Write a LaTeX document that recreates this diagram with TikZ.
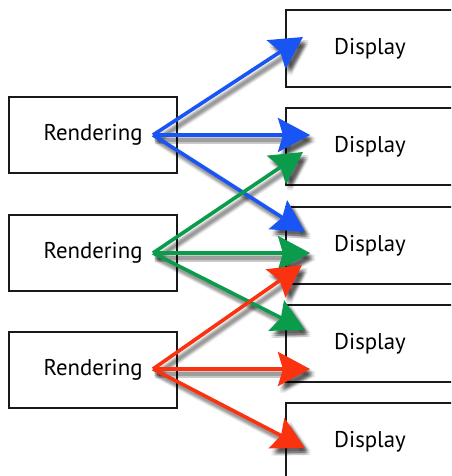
\documentclass[tikz,border=0pt]{standalone}
\usepackage{fontspec}
\setmainfont{PT Sans}
\usetikzlibrary{arrows.meta}

\definecolor{linkblue}{RGB}{25,85,245}
\definecolor{linkgreen}{RGB}{10,155,75}
\definecolor{linkred}{RGB}{250,50,15}

\begin{document}
\begin{tikzpicture}[x=1pt,y=-1pt,
  box/.style={draw=black!90, line width=1.8pt, fill=white, inner sep=0pt,
              font=\fontsize{22.8}{26}\selectfont},
  render/.style={box, minimum width=168pt, minimum height=76pt},
  display/.style={box, minimum width=168pt, minimum height=77pt},
  link/.style={line width=3.6pt, -{Triangle[length=32pt,width=34pt,inset=5pt]}},
  linkshadow/.style={link, draw=black, fill=black, draw opacity=0.075, fill opacity=0.075}
]
\useasboundingbox (0,0) rectangle (451,476);
\clip (0,0) rectangle (451,476);

% rendering stages
\node[render] (r1) at (93,135) {Rendering};
\node[render] (r2) at (93,253) {Rendering};
\node[render] (r3) at (93,370) {Rendering};

% display stages, running off the right edge
\node[display] (d1) at (370,48.5)  {Display};
\node[display] (d2) at (370,146.5) {Display};
\node[display] (d3) at (370,245.5) {Display};
\node[display] (d4) at (370,343.5) {Display};
\node[display] (d5) at (370,441.5) {Display};

% fan-out origins
\coordinate (s1) at (153,135);
\coordinate (s2) at (153,253);
\coordinate (s3) at (153,369);

% arrow tips on the displays
\coordinate (b1) at (303,37);
\coordinate (b2) at (310,135);
\coordinate (b3) at (305,232);
\coordinate (g1) at (303,152);
\coordinate (g2) at (310,253);
\coordinate (g3) at (305,330);
\coordinate (t1) at (302,265);
\coordinate (t2) at (310,369);
\coordinate (t3) at (305,448);

% soft drop shadows under the arrows: a cloud of faint offset copies
\foreach \s/\e in {s1/b1, s1/b2, s1/b3, s2/g1, s2/g2, s2/g3, s3/t1, s3/t2, s3/t3}
  \foreach \dx in {2,4,6}
    \foreach \dy in {3,5,7}
      \draw[linkshadow, transform canvas={shift={(\dx pt,-\dy pt)}}] (\s) -- (\e);

% arrows
\foreach \e in {b1,b2,b3} \draw[link, draw=linkblue, fill=linkblue] (s1) -- (\e);
\foreach \e in {g1,g2,g3} \draw[link, draw=linkgreen, fill=linkgreen] (s2) -- (\e);
\foreach \e in {t1,t2,t3} \draw[link, draw=linkred, fill=linkred] (s3) -- (\e);
\end{tikzpicture}
\end{document}
